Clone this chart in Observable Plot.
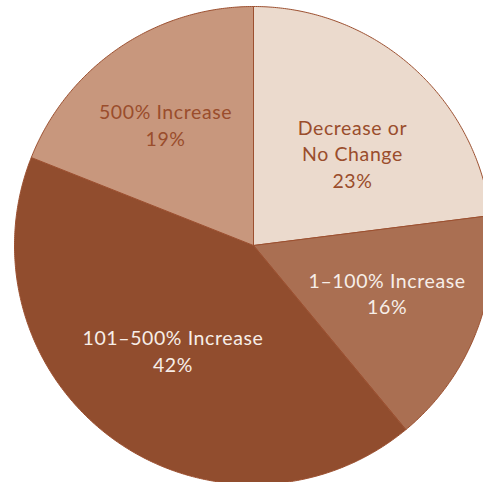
<!DOCTYPE html>
<html>
<head>
<meta charset="utf-8">
<script src="https://cdn.jsdelivr.net/npm/d3@7"></script>
<script src="https://cdn.jsdelivr.net/npm/@observablehq/plot@0.6"></script>
<style>
  html, body { margin: 0; padding: 0; background: #fff; overflow: hidden; }
  #chart svg { overflow: hidden; display: block; }
</style>
</head>
<body>
<div id="chart"></div>
<script>
// ---- data ----
const categories = ["Decrease or\nNo Change", "1–100% Increase", "101–500% Increase", "500% Increase"];
const shares = [23, 16, 42, 19];

// ---- style / layout ----
const fills = ["#ebdacd", "#aa6f52", "#914d2e", "#c8977d"];
const textColors = ["#9a4d2c", "#f7eee8", "#f7eee8", "#9a4d2c"];
const strokeColor = "#9c5030";
// label anchors in unit-circle coordinates
const labelAnchors = [[0.414, 0.388], [0.559, -0.197], [-0.337, -0.437], [-0.368, 0.508]];

const total = d3.sum(shares);
const slices = [];
let acc = 0;
categories.forEach((c, i) => {
  const a0 = acc / total * 2 * Math.PI;
  acc += shares[i];
  const a1 = acc / total * 2 * Math.PI;
  const pts = [{x: 0, y: 0}];
  const n = Math.max(2, Math.ceil((a1 - a0) / (Math.PI / 360)));
  for (let k = 0; k <= n; k++) {
    const a = a0 + (a1 - a0) * k / n;
    pts.push({x: Math.sin(a), y: Math.cos(a)});
  }
  pts.push({x: 0, y: 0});
  slices.push({cat: c, share: shares[i], pts, i});
});

const labels = categories.map((c, i) => ({
  text: `${c}\n${shares[i]}%`,
  x: labelAnchors[i][0],
  y: labelAnchors[i][1],
  color: textColors[i]
}));

const marks = [];
slices.forEach(s => {
  marks.push(Plot.line(s.pts, {x: "x", y: "y", fill: fills[s.i], stroke: strokeColor, strokeWidth: 1, curve: "linear-closed"}));
});
labels.forEach(l => {
  marks.push(Plot.text([l], {x: "x", y: "y", text: "text", fill: l.color, fontSize: 19.5, lineHeight: 1.36, textAnchor: "middle", lineAnchor: "middle"}));
});

const plot = Plot.plot({
  width: 483,
  height: 482,
  margin: 0,
  style: {fontFamily: "Lato", background: "transparent", letterSpacing: "0.6px"},
  x: {domain: [-1, 1], range: [14, 492], axis: null},
  y: {domain: [-1, 1], range: [484, 6], axis: null},
  marks
});
document.getElementById("chart").appendChild(plot);
</script>
</body>
</html>
